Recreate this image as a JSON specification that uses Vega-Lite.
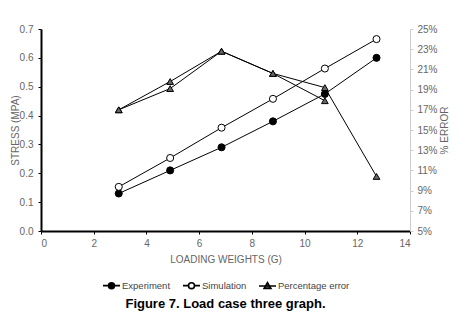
{
  "$schema": "https://vega.github.io/schema/vega-lite/v6.json",
  "width": 369,
  "height": 202,
  "autosize": {"type": "none"},
  "padding": {"left": 41, "top": 29, "right": 51, "bottom": 88},
  "background": "white",
  "config": {
    "view": {"stroke": null},
    "font": "Liberation Sans",
    "axis": {
      "grid": false,
      "labelFont": "Liberation Sans",
      "labelFontSize": 10,
      "labelColor": "#666666",
      "titleFont": "Liberation Sans",
      "titleFontSize": 10,
      "titleFontWeight": "normal",
      "titleColor": "#666666"
    },
    "legend": {
      "labelFont": "Liberation Sans",
      "labelFontSize": 9.5,
      "labelColor": "#444444",
      "layout": {"bottom": {"anchor": "middle"}}
    }
  },
  "title": {
    "text": "Figure 7. Load case three graph.",
    "orient": "bottom",
    "anchor": "middle",
    "font": "Liberation Sans",
    "fontSize": 13,
    "fontWeight": "bold",
    "color": "#000000",
    "offset": 6
  },
  "data": {
    "values": [
      {"x": 2.95, "value": 0.13, "series": "Experiment", "run": "e"},
      {"x": 4.9, "value": 0.21, "series": "Experiment", "run": "e"},
      {"x": 6.85, "value": 0.29, "series": "Experiment", "run": "e"},
      {"x": 8.8, "value": 0.38, "series": "Experiment", "run": "e"},
      {"x": 10.77, "value": 0.475, "series": "Experiment", "run": "e"},
      {"x": 12.73, "value": 0.6, "series": "Experiment", "run": "e"},
      {"x": 2.95, "value": 0.153, "series": "Simulation", "run": "s"},
      {"x": 4.9, "value": 0.253, "series": "Simulation", "run": "s"},
      {"x": 6.85, "value": 0.358, "series": "Simulation", "run": "s"},
      {"x": 8.8, "value": 0.458, "series": "Simulation", "run": "s"},
      {"x": 10.77, "value": 0.563, "series": "Simulation", "run": "s"},
      {"x": 12.73, "value": 0.665, "series": "Simulation", "run": "s"},
      {"x": 2.95, "value": 17.0, "series": "Percentage error", "run": "a"},
      {"x": 4.9, "value": 19.8, "series": "Percentage error", "run": "a"},
      {"x": 6.85, "value": 22.8, "series": "Percentage error", "run": "a"},
      {"x": 8.8, "value": 20.6, "series": "Percentage error", "run": "a"},
      {"x": 10.77, "value": 19.2, "series": "Percentage error", "run": "a"},
      {"x": 12.73, "value": 10.4, "series": "Percentage error", "run": "a"},
      {"x": 2.95, "value": 17.0, "series": "Percentage error", "run": "b"},
      {"x": 4.9, "value": 19.1, "series": "Percentage error", "run": "b"},
      {"x": 6.85, "value": 22.8, "series": "Percentage error", "run": "b"},
      {"x": 8.8, "value": 20.6, "series": "Percentage error", "run": "b"},
      {"x": 10.77, "value": 17.9, "series": "Percentage error", "run": "b"}
    ]
  },
  "encoding": {
    "x": {
      "field": "x",
      "type": "quantitative",
      "scale": {"domain": [0, 14], "nice": false},
      "axis": {
        "title": "LOADING WEIGHTS (G)",
        "values": [0, 2, 4, 6, 8, 10, 12, 14],
        "domainColor": "#000000",
        "domainWidth": 2,
        "tickColor": "#000000",
        "tickSize": 3,
        "labelPadding": 4,
        "titlePadding": 6
      }
    }
  },
  "layer": [
    {
      "transform": [{"filter": "datum.series !== 'Percentage error'"}],
      "encoding": {
        "y": {
          "field": "value",
          "type": "quantitative",
          "scale": {"domain": [0, 0.7], "nice": false, "zero": false},
          "axis": {
            "title": "STRESS (MPA)",
            "values": [0, 0.1, 0.2, 0.3, 0.4, 0.5, 0.6, 0.7],
            "format": ".1f",
            "domainColor": "#000000",
            "domainWidth": 2,
            "tickColor": "#000000",
            "tickSize": 3,
            "labelPadding": 5,
            "titlePadding": -1
          }
        }
      },
      "layer": [
        {
          "mark": {"type": "line", "color": "#000000", "strokeWidth": 1},
          "encoding": {"detail": {"field": "run"}}
        },
        {
          "mark": {"type": "point", "size": 50, "stroke": "#000000", "strokeWidth": 1, "opacity": 1, "filled": false, "shape": "circle"},
          "encoding": {
            "fill": {
              "field": "series",
              "type": "nominal",
              "scale": {"domain": ["Experiment", "Simulation"], "range": ["#000000", "#ffffff"]},
              "legend": null
            }
          }
        }
      ]
    },
    {
      "transform": [{"filter": "datum.series === 'Percentage error'"}],
      "encoding": {
        "y": {
          "field": "value",
          "type": "quantitative",
          "scale": {"domain": [5, 25], "nice": false, "zero": false},
          "axis": {
            "orient": "right",
            "title": "% ERROR",
            "titleAngle": 270,
            "values": [5, 7, 9, 11, 13, 15, 17, 19, 21, 23, 25],
            "labelExpr": "datum.value + '%'",
            "domainColor": "#cccccc",
            "domainWidth": 1,
            "tickColor": "#cccccc",
            "tickSize": 3,
            "labelPadding": 4,
            "titlePadding": 12
          }
        }
      },
      "layer": [
        {
          "mark": {"type": "line", "color": "#000000", "strokeWidth": 1},
          "encoding": {"detail": {"field": "run"}}
        },
        {
          "mark": {"type": "point", "size": 45, "stroke": "#000000", "strokeWidth": 1, "opacity": 1, "filled": true, "fill": "#666666", "shape": "triangle-up"}
        }
      ]
    },
    {
      "mark": {"type": "point", "size": 289, "strokeWidth": 1.6, "opacity": 0, "filled": false},
      "encoding": {
        "shape": {
          "field": "series",
          "type": "nominal",
          "scale": {
            "domain": ["Experiment", "Simulation", "Percentage error"],
            "range": [
              "M-1,0L-0.35,0M0.35,0L1,0M0.35,0A0.35,0.35 0 1 1 -0.35,0A0.35,0.35 0 1 1 0.35,0Z",
              "M-1,0L-0.35,0M0.35,0L1,0M0.35,0A0.35,0.35 0 1 1 -0.35,0A0.35,0.35 0 1 1 0.35,0Z",
              "M-1,0L1,0M0,-0.4L0.4,0.28L-0.4,0.28Z"
            ]
          },
          "legend": {
            "orient": "bottom",
            "direction": "horizontal",
            "title": null,
            "offset": 12,
            "symbolSize": 289,
            "symbolOpacity": 1,
            "symbolStrokeWidth": 1.6,
            "labelOffset": 1,
            "columnPadding": 8
          }
        },
        "fill": {
          "field": "series",
          "type": "nominal",
          "scale": {"domain": ["Experiment", "Simulation", "Percentage error"], "range": ["#000000", "#ffffff", "#666666"]},
          "legend": {
            "orient": "bottom",
            "direction": "horizontal",
            "title": null,
            "offset": 12,
            "symbolSize": 289,
            "symbolOpacity": 1,
            "symbolStrokeWidth": 1.6,
            "labelOffset": 1,
            "columnPadding": 8
          }
        },
        "stroke": {
          "field": "series",
          "type": "nominal",
          "scale": {"domain": ["Experiment", "Simulation", "Percentage error"], "range": ["#000000", "#000000", "#000000"]},
          "legend": {
            "orient": "bottom",
            "direction": "horizontal",
            "title": null,
            "offset": 12,
            "symbolSize": 289,
            "symbolOpacity": 1,
            "symbolStrokeWidth": 1.6,
            "labelOffset": 1,
            "columnPadding": 8
          }
        }
      }
    }
  ],
  "resolve": {"scale": {"y": "independent", "shape": "independent", "fill": "independent", "stroke": "independent"}}
}
